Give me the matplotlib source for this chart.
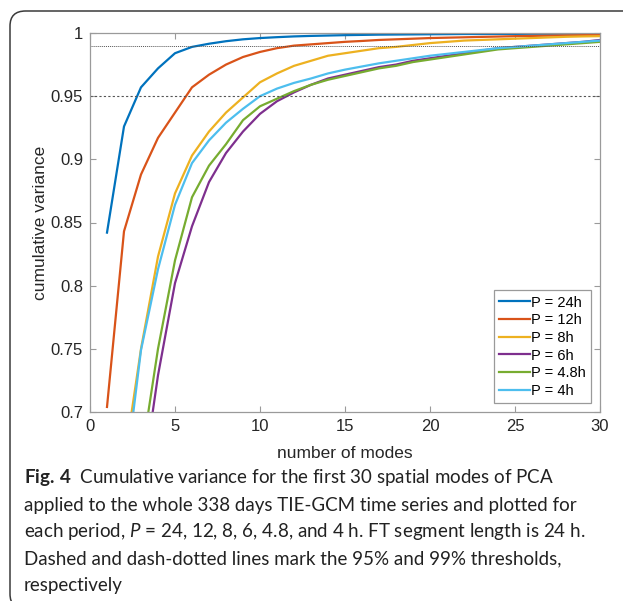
import numpy as np
import matplotlib
matplotlib.use("Agg")
import matplotlib.pyplot as plt
from matplotlib.patches import FancyBboxPatch
from matplotlib.ticker import FormatStrFormatter

# cumulative variance per number of modes (1..30)
modes = np.arange(1, 31)
labels = ["P = 24h", "P = 12h", "P = 8h", "P = 6h", "P = 4.8h", "P = 4h"]
colors = ["#0072BD", "#D95319", "#EDB120", "#7E2F8E", "#77AC30", "#4DBEEE"]

var_24h = [0.842, 0.926, 0.957, 0.972, 0.984, 0.989, 0.9915, 0.9935, 0.995, 0.996,
           0.9967, 0.9973, 0.9977, 0.998, 0.9983, 0.9985, 0.9987, 0.9988, 0.9989, 0.999,
           0.9991, 0.9992, 0.9992, 0.9993, 0.9993, 0.9994, 0.9994, 0.9995, 0.9995, 0.9995]
var_12h = [0.704, 0.843, 0.888, 0.917, 0.937, 0.957, 0.967, 0.975, 0.981, 0.985,
           0.988, 0.990, 0.991, 0.992, 0.993, 0.9937, 0.9945, 0.995, 0.9955, 0.996,
           0.9963, 0.9966, 0.9969, 0.9972, 0.9975, 0.9977, 0.9979, 0.9981, 0.9983, 0.9985]
var_8h = [np.nan, 0.659, 0.750, 0.823, 0.873, 0.903, 0.922, 0.937, 0.949, 0.961,
          0.968, 0.974, 0.978, 0.982, 0.984, 0.986, 0.988, 0.989, 0.9905, 0.992,
          0.993, 0.994, 0.9945, 0.995, 0.9955, 0.996, 0.9965, 0.997, 0.9973, 0.9975]
var_6h = [np.nan, np.nan, 0.636, 0.729, 0.802, 0.847, 0.882, 0.905, 0.922, 0.936,
          0.946, 0.953, 0.959, 0.964, 0.967, 0.970, 0.973, 0.975, 0.978, 0.980,
          0.982, 0.984, 0.986, 0.988, 0.989, 0.990, 0.991, 0.992, 0.993, 0.9945]
var_4_8h = [np.nan, np.nan, 0.662, 0.750, 0.820, 0.870, 0.895, 0.912, 0.931, 0.942,
            0.948, 0.954, 0.959, 0.963, 0.966, 0.969, 0.972, 0.974, 0.977, 0.979,
            0.981, 0.983, 0.985, 0.987, 0.988, 0.989, 0.990, 0.991, 0.992, 0.993]
var_4h = [np.nan, 0.640, 0.749, 0.813, 0.864, 0.897, 0.915, 0.929, 0.940, 0.950,
          0.956, 0.9605, 0.964, 0.968, 0.971, 0.9735, 0.976, 0.978, 0.980, 0.982,
          0.9835, 0.985, 0.9865, 0.988, 0.989, 0.990, 0.991, 0.992, 0.993, 0.994]
series = [var_24h, var_12h, var_8h, var_6h, var_4_8h, var_4h]

xticks = [0, 5, 10, 15, 20, 25, 30]
yticks = [0.7, 0.75, 0.8, 0.85, 0.9, 0.95, 1.0]

caption = [
    r"$\mathbf{Fig.\,4}$  Cumulative variance for the first 30 spatial modes of PCA",
    "applied to the whole 338 days TIE-GCM time series and plotted for",
    r"each period, $P$ = 24, 12, 8, 6, 4.8, and 4 h. FT segment length is 24 h.",
    "Dashed and dash-dotted lines mark the 95% and 99% thresholds,",
    "respectively",
]

plt.rcParams["mathtext.fontset"] = "custom"
plt.rcParams["mathtext.rm"] = "Lato"
plt.rcParams["mathtext.it"] = "Lato:italic"
plt.rcParams["mathtext.bf"] = "Lato:bold"

W, H = 623, 601
fig = plt.figure(figsize=(W / 100, H / 100), dpi=100)

# rounded frame around the figure + caption (partly cut off right and bottom)
box = FancyBboxPatch((10 / W, -8 / H), 660 / W, (H - 11 + 8) / H,
                     boxstyle="round,pad=0,rounding_size=0.025",
                     transform=fig.transFigure, facecolor="none",
                     edgecolor="#3a3a3a", linewidth=1.1)
fig.patches.append(box)

ax = fig.add_axes([90 / W, 1 - 412 / H, 510 / W, 379 / H])

for y, lab, c in zip(series, labels, colors):
    ax.plot(modes, y, color=c, linewidth=1.6, label=lab)

# 95% and 99% thresholds
ax.axhline(0.95, color="#555555", linewidth=0.8, linestyle=(0, (2, 2)))
ax.axhline(0.99, color="#555555", linewidth=0.7, linestyle=(0, (1, 1)))

ax.set_xlim(0, 30)
ax.set_ylim(0.7, 1.0)
ax.set_xticks(xticks)
ax.set_yticks(yticks)
ax.yaxis.set_major_formatter(FormatStrFormatter("%g"))

tick_font = "Liberation Sans"
ax.tick_params(direction="in", length=4, width=0.8, color="#9a9a9a",
               top=True, right=True, labelsize=12, labelcolor="#262626", pad=5)
for lbl in ax.get_xticklabels() + ax.get_yticklabels():
    lbl.set_fontfamily(tick_font)
for s in ax.spines.values():
    s.set_color("#9a9a9a")
    s.set_linewidth(0.9)

ax.set_xlabel("number of modes", fontsize=12.5, family=tick_font, color="#262626", labelpad=9)
ax.set_ylabel("cumulative variance", fontsize=12.5, family=tick_font, color="#262626", labelpad=2)

leg = ax.legend(loc="lower right", bbox_to_anchor=(0.983, 0.024),
                prop={"family": tick_font, "size": 10.5}, handlelength=2.1,
                handletextpad=0.1, labelspacing=0.25, borderpad=0.35,
                fancybox=False, framealpha=1, borderaxespad=0)
leg.get_frame().set_edgecolor("#9a9a9a")
leg.get_frame().set_linewidth(0.9)

# caption lines
ys = [478, 505, 532, 559, 585]
for txt, yy in zip(caption, ys):
    fig.text(24 / W, 1 - yy / H, txt, fontsize=13.5, family="Lato", color="#222222",
             va="center", ha="left")

fig.savefig("out.png", dpi=100)
